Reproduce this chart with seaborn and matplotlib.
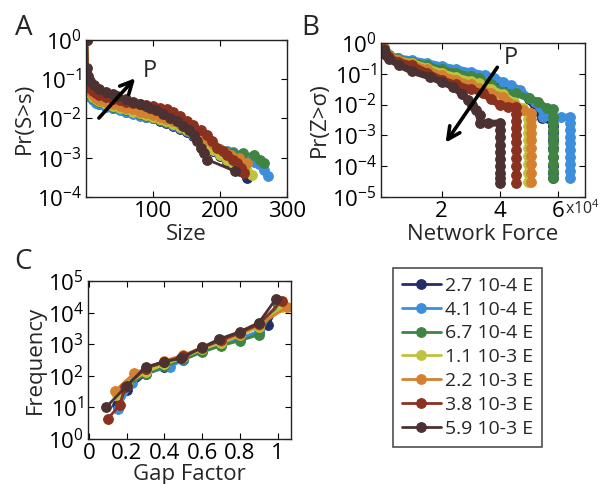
import numpy as np
import pandas as pd
import matplotlib
matplotlib.use("Agg")
import matplotlib.pyplot as plt
import seaborn as sns

# ---------------- data ----------------
series_labels = ["2.7 10-4 E", "4.1 10-4 E", "6.7 10-4 E", "1.1 10-3 E",
                 "2.2 10-3 E", "3.8 10-3 E", "5.9 10-3 E"]
series_colors = ["#232e68", "#3d8edb", "#3f8443", "#bfc23e",
                 "#d4812f", "#8a3120", "#4b3131"]

# Panel A: avalanche size CCDF, Pr(S>s)
a_x = [
    [1, 3, 6, 10, 15, 20, 30, 40, 50, 60, 70, 80, 90, 100, 110, 120, 130, 140, 150, 160, 170, 180, 190, 200, 210, 220, 230, 241],
    [1, 3, 6, 10, 15, 20, 30, 40, 50, 60, 70, 80, 90, 100, 110, 120, 130, 140, 150, 160, 170, 180, 190, 200, 210, 220, 230, 240, 250, 258, 265, 272],
    [1, 3, 6, 10, 15, 20, 30, 40, 50, 60, 70, 80, 90, 100, 110, 120, 130, 140, 150, 160, 170, 180, 190, 200, 210, 220, 235, 251, 260, 266],
    [1, 3, 6, 10, 15, 20, 30, 40, 50, 60, 70, 80, 90, 100, 110, 120, 130, 140, 150, 160, 170, 180, 190, 200, 210, 220, 229, 240, 248],
    [1, 3, 6, 10, 15, 20, 30, 40, 50, 60, 70, 80, 90, 100, 110, 120, 130, 140, 150, 160, 170, 180, 190, 200, 208, 216, 228, 241, 236],
    [1, 3, 6, 10, 15, 20, 30, 40, 50, 60, 70, 80, 90, 100, 110, 121, 130, 140, 151, 160, 171, 180, 188, 196, 204, 211, 219, 226, 231, 236],
    [1, 1.5, 3, 6, 12, 20, 30, 40, 47, 60, 70, 80, 90, 96, 105, 115, 125, 136, 145, 153, 161, 166, 171, 176, 181, 223],
]
a_y = [
    [1.0, 0.05, 0.038, 0.031, 0.027, 0.024, 0.021, 0.019, 0.017, 0.015, 0.0135, 0.012, 0.011, 0.0100, 0.0088, 0.0077, 0.0066, 0.0055, 0.0045, 0.0035, 0.0027, 0.0020, 0.0015, 0.0011, 0.0008, 0.0006, 0.00045, 0.0003],
    [1.0, 0.045, 0.035, 0.029, 0.025, 0.023, 0.020, 0.018, 0.016, 0.0145, 0.013, 0.0118, 0.011, 0.0100, 0.0090, 0.0080, 0.0069, 0.0058, 0.0047, 0.0037, 0.0029, 0.0022, 0.0018, 0.0016, 0.0015, 0.0014, 0.0012, 0.0010, 0.0008, 0.0007, 0.0005, 0.00034],
    [1.0, 0.055, 0.042, 0.034, 0.029, 0.026, 0.023, 0.020, 0.018, 0.016, 0.0145, 0.013, 0.0118, 0.0105, 0.0094, 0.0083, 0.0072, 0.0061, 0.0050, 0.0040, 0.0031, 0.0024, 0.0019, 0.0016, 0.0014, 0.0013, 0.0013, 0.0012, 0.0009, 0.00074],
    [1.0, 0.060, 0.045, 0.036, 0.031, 0.028, 0.024, 0.021, 0.019, 0.017, 0.015, 0.0135, 0.012, 0.0108, 0.0096, 0.0085, 0.0073, 0.0062, 0.0050, 0.0040, 0.0030, 0.0022, 0.0016, 0.0012, 0.0009, 0.0007, 0.0006, 0.00045, 0.00037],
    [1.0, 0.070, 0.050, 0.040, 0.034, 0.030, 0.026, 0.023, 0.021, 0.019, 0.017, 0.015, 0.0135, 0.012, 0.0108, 0.0096, 0.0084, 0.0071, 0.0059, 0.0048, 0.0038, 0.0029, 0.0022, 0.0017, 0.0014, 0.0012, 0.0010, 0.00074, 0.0005],
    [1.0, 0.085, 0.060, 0.050, 0.044, 0.040, 0.035, 0.031, 0.029, 0.027, 0.025, 0.0235, 0.022, 0.021, 0.019, 0.017, 0.0145, 0.0115, 0.0085, 0.0068, 0.0052, 0.0037, 0.0026, 0.0018, 0.0015, 0.0012, 0.0009, 0.00074, 0.00055, 0.0004],
    [1.0, 0.19, 0.12, 0.09, 0.072, 0.058, 0.048, 0.041, 0.037, 0.031, 0.027, 0.024, 0.021, 0.019, 0.016, 0.013, 0.0105, 0.0085, 0.0065, 0.0050, 0.0039, 0.0027, 0.0018, 0.0013, 0.0009, 0.00045],
]

# Panel B: network force CCDF, Pr(Z>sigma)
b_x = [
    [200, 1000, 2000, 5000, 10000, 15000, 20000, 25000, 30000, 35000, 40000, 45000, 50000, 53000, 54400, 56500, 58400, 58400, 58400, 58400, 58400, 58400, 58400, 58400, 58400],
    [200, 1000, 2000, 5000, 10000, 15000, 20000, 25000, 30000, 35000, 38000, 41000, 44000, 47000, 50000, 52000, 54000, 55000, 58000, 61000, 64100, 64100, 64100, 64100, 64100, 64100, 64100, 64100, 64100, 64100],
    [200, 1000, 2000, 5000, 10000, 15000, 20000, 25000, 30000, 33000, 37000, 41100, 45700, 50000, 53200, 56100, 58400, 58400, 58400, 58400, 58400, 58400, 58400, 58400, 58400, 58400, 58400],
    [200, 1000, 2000, 5000, 10000, 15000, 20000, 25000, 30000, 33000, 37000, 41000, 45000, 48000, 49800, 49800, 49800, 49800, 49800, 49800, 49800, 49800, 49800, 49800],
    [200, 1000, 2000, 5000, 10000, 15000, 20000, 25000, 30000, 33000, 37000, 41100, 45000, 48000, 50900, 50900, 50900, 50900, 50900, 50900, 50900, 50900, 50900, 50900],
    [200, 1000, 2000, 5000, 10000, 15000, 20000, 25000, 30000, 34200, 37000, 40000, 43000, 45700, 45700, 45700, 45700, 45700, 45700, 45700, 45700, 45700, 45700, 45700],
    [200, 1000, 2000, 5500, 10000, 15900, 20000, 23900, 27000, 29100, 30500, 32000, 33100, 33100, 36000, 40000, 40000, 40000, 40000, 40000, 40000, 40000, 40000, 40000, 40000],
]
b_y = [
    [0.70, 0.49, 0.40, 0.32, 0.26, 0.21, 0.16, 0.125, 0.10, 0.075, 0.050, 0.030, 0.015, 0.006, 0.0038, 0.0037, 0.0036, 0.002, 0.0012, 0.0007, 0.0004, 0.0002, 0.0001, 6e-5, 4e-5],
    [0.70, 0.50, 0.41, 0.33, 0.28, 0.23, 0.18, 0.145, 0.115, 0.093, 0.075, 0.055, 0.042, 0.030, 0.017, 0.012, 0.0085, 0.0040, 0.0039, 0.0039, 0.0039, 0.0025, 0.0015, 0.0009, 0.00055, 0.00033, 0.0002, 0.00012, 7e-5, 4e-5],
    [0.70, 0.48, 0.40, 0.31, 0.25, 0.19, 0.14, 0.11, 0.085, 0.071, 0.045, 0.026, 0.023, 0.016, 0.0125, 0.0076, 0.0070, 0.0040, 0.0025, 0.0015, 0.0009, 0.00055, 0.00033, 0.0002, 0.00012, 7e-5, 4e-5],
    [0.68, 0.46, 0.38, 0.29, 0.23, 0.16, 0.11, 0.080, 0.060, 0.049, 0.033, 0.022, 0.012, 0.0075, 0.0055, 0.0033, 0.002, 0.0012, 0.0007, 0.0004, 0.00022, 0.00012, 6e-5, 3.1e-5],
    [0.68, 0.45, 0.37, 0.28, 0.21, 0.14, 0.090, 0.065, 0.045, 0.034, 0.024, 0.018, 0.010, 0.0067, 0.0052, 0.0033, 0.002, 0.0012, 0.0007, 0.0004, 0.00022, 0.00012, 6e-5, 3.1e-5],
    [0.65, 0.43, 0.35, 0.25, 0.19, 0.11, 0.065, 0.045, 0.032, 0.023, 0.015, 0.0097, 0.0085, 0.0085, 0.005, 0.003, 0.0017, 0.001, 0.0006, 0.00033, 0.00018, 0.0001, 5e-5, 2.8e-5],
    [0.60, 0.40, 0.30, 0.19, 0.12, 0.080, 0.055, 0.038, 0.022, 0.014, 0.010, 0.0067, 0.0045, 0.0026, 0.0025, 0.0025, 0.0015, 0.0009, 0.0005, 0.0003, 0.00017, 0.0001, 6e-5, 4e-5, 2.8e-5],
]

# Panel C: gap factor histogram
c_x = [
    [0.15, 0.2, 0.3, 0.4, 0.5, 0.6, 0.7, 0.8, 0.9, 0.95, 1.0],
    [0.155, 0.23, 0.3, 0.43, 0.5, 0.6, 0.7, 0.8, 0.9, 1.0],
    [0.2, 0.3, 0.4, 0.5, 0.6, 0.7, 0.8, 0.9, 1.0],
    [0.15, 0.2, 0.3, 0.4, 0.5, 0.6, 0.7, 0.8, 0.9, 1.02],
    [0.138, 0.24, 0.3, 0.4, 0.5, 0.6, 0.7, 0.8, 0.9, 1.05],
    [0.099, 0.164, 0.19, 0.3, 0.4, 0.5, 0.6, 0.7, 0.8, 0.9, 1.02],
    [0.09, 0.2, 0.3, 0.4, 0.49, 0.6, 0.69, 0.8, 0.9, 0.99],
]
c_y = [
    [12, 35, 110, 190, 320, 600, 1000, 1500, 2500, 4000, 17000],
    [9, 60, 120, 190, 320, 600, 950, 1500, 2600, 18000],
    [50, 110, 200, 330, 560, 900, 1300, 2000, 20000],
    [25, 55, 130, 230, 380, 700, 1100, 1900, 3500, 15000],
    [33, 122, 170, 300, 450, 800, 1250, 2100, 4000, 15000],
    [4.3, 12, 44, 170, 270, 420, 780, 1350, 2300, 4300, 23000],
    [10, 48, 190, 280, 360, 800, 1450, 2500, 4800, 27000],
]

# ---------------- style ----------------
sns.set_style("ticks")
plt.rcParams['font.family'] = ['Open Sans', 'DejaVu Sans']
plt.rcParams['mathtext.default'] = 'regular'
FS = 16

W, H = 601, 484
fig = plt.figure(figsize=(W / 100, H / 100), dpi=100)


def px_axes(l, t, r, b):
    return fig.add_axes([l / W, 1 - b / H, (r - l) / W, (b - t) / H])


axA = px_axes(86, 40, 287, 197)
axB = px_axes(381, 43, 585, 197)
axC = px_axes(88, 281, 291, 439)


def draw(ax, xs, ys, lw, ms):
    for x, y, lab, col in zip(xs, ys, series_labels, series_colors):
        df = pd.DataFrame({"x": x, "y": y})
        sns.lineplot(data=df, x="x", y="y", ax=ax, estimator=None, sort=False,
                     color=col, marker="o", markersize=ms, markeredgecolor=col,
                     linewidth=lw, label=lab, legend=False,
                     solid_capstyle="round", solid_joinstyle="round")
    ax.set_yscale("log")
    ax.minorticks_off()
    ax.tick_params(which="both", direction="in", top=True, right=True,
                   labelsize=FS, length=4, width=0.8, pad=3, colors="black")
    for s in ax.spines.values():
        s.set_linewidth(1.0)
        s.set_color("#222222")


draw(axA, a_x, a_y, 2.0, 7)
axA.set_xlim(0, 300)
axA.set_ylim(1e-4, 1e0)
axA.set_xticks([100, 200, 300])
axA.set_yticks([1e-4, 1e-3, 1e-2, 1e-1, 1e0])
axA.set_xlabel("Size", fontsize=FS, labelpad=1)
axA.set_ylabel("Pr(S>s)", fontsize=FS, labelpad=1)

draw(axB, b_x, b_y, 5.0, 7)
axB.set_xlim(-800, 69300)
axB.set_ylim(1e-5, 1e0)
axB.set_xticks([20000, 40000, 60000])
axB.set_xticklabels(["2", "4", "6"])
axB.set_yticks([1e-5, 1e-4, 1e-3, 1e-2, 1e-1, 1e0])
axB.set_xlabel("Network Force", fontsize=FS, labelpad=1)
axB.set_ylabel("Pr(Z>σ)", fontsize=FS, labelpad=1)
fig.text(565 / W, 1 - 209 / H, r"x10$^{4}$", fontsize=11.5, ha="left", va="center")

draw(axC, c_x, c_y, 2.0, 7)
axC.set_xlim(-0.005, 1.07)
axC.set_ylim(1e0, 1e5)
axC.set_xticks([0, 0.2, 0.4, 0.6, 0.8, 1.0])
axC.set_xticklabels(["0", "0.2", "0.4", "0.6", "0.8", "1"])
axC.set_yticks([1e0, 1e1, 1e2, 1e3, 1e4, 1e5])
axC.set_xlabel("Gap Factor", fontsize=FS, labelpad=0)
axC.set_ylabel("Frequency", fontsize=FS, labelpad=1)

# arrows
arrow_kw = dict(arrowstyle="->", lw=2.6, color="black", mutation_scale=22)
axA.annotate("", xy=(0.254, 0.77), xytext=(0.055, 0.49), xycoords="axes fraction",
             textcoords="axes fraction", arrowprops=arrow_kw)
axA.text(0.318, 0.80, "P", transform=axA.transAxes, fontsize=FS + 1, ha="center", va="center")
axB.annotate("", xy=(0.309, 0.338), xytext=(0.578, 0.857), xycoords="axes fraction",
             textcoords="axes fraction", arrowprops=arrow_kw)
axB.text(0.637, 0.90, "P", transform=axB.transAxes, fontsize=FS + 1, ha="center", va="center")

# panel letters
for lab, x, y in [("A", 24, 28), ("B", 310, 28), ("C", 23, 262)]:
    fig.text(x / W, 1 - y / H, lab, fontsize=20, ha="center", va="center")

# legend
handles, labels = axC.get_legend_handles_labels()
leg = fig.legend(handles, labels, loc="upper left",
                 bbox_to_anchor=(393 / W, 1 - 268 / H), borderaxespad=0,
                 fontsize=14, frameon=True, fancybox=False, edgecolor="#222222",
                 handlelength=2.0, handletextpad=0.2, labelspacing=0.3,
                 borderpad=0.45)
leg.get_frame().set_linewidth(1.2)

fig.savefig("out.png", dpi=100)
